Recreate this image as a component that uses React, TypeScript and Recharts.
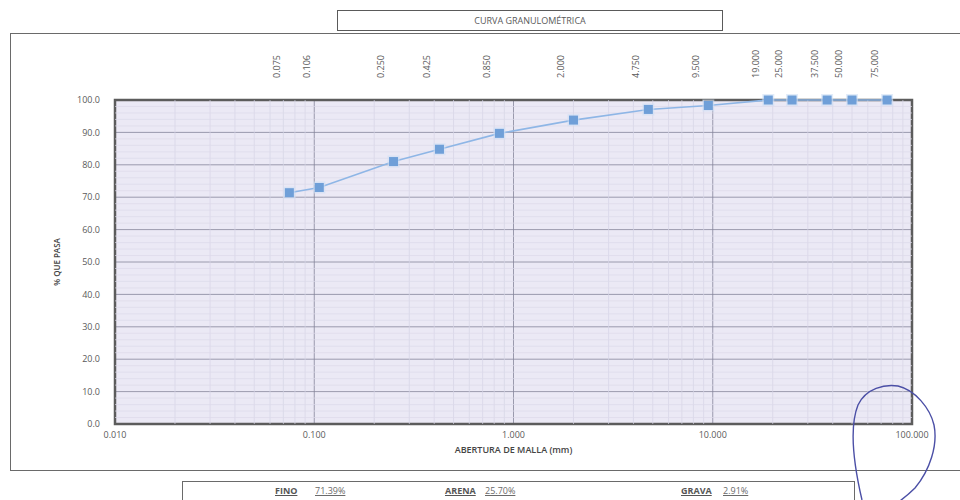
import React from "react";
import {
  ComposedChart,
  Line,
  XAxis,
  YAxis,
  CartesianGrid,
  ReferenceArea,
  ReferenceLine,
} from "recharts";

// Sieve openings (mm) and % passing
const sieves = [0.075, 0.106, 0.25, 0.425, 0.85, 2.0, 4.75, 9.5, 19.0, 25.0, 37.5, 50.0, 75.0];
const passing = [71.39, 73.0, 81.0, 84.8, 89.7, 93.8, 97.09, 98.3, 100, 100, 100, 100, 100];

const bottomTicks = [0.01, 0.1, 1, 10, 100];
const yTicks = [0, 10, 20, 30, 40, 50, 60, 70, 80, 90, 100];

const summaryLabels = ["FINO", "ARENA", "GRAVA"];
const summaryValues = ["71.39%", "25.70%", "2.91%"];

const data = sieves.map((s, i) => ({ x: s, y: passing[i] }));

// minor grid positions (2..9 within each decade)
const minorX: number[] = [];
[0.01, 0.1, 1, 10].forEach((d) => {
  for (let k = 2; k <= 9; k++) minorX.push(+(d * k).toFixed(4));
});
const minorY: number[] = [];
for (let v = 2; v < 100; v += 2) if (v % 10 !== 0) minorY.push(v);

const FONT = "'Open Sans', 'Liberation Sans', sans-serif";
const TXT = "#5a5a5a";

const SquareDot = (props: any) => {
  const { cx, cy, index } = props;
  if (cx == null || cy == null) return null;
  return (
    <g key={`dot-${index}`}>
      <rect x={cx - 6} y={cy - 6} width={12} height={12} fill="#cfe0f5" opacity={0.6} />
      <rect x={cx - 4.5} y={cy - 4.5} width={9} height={9} fill="#6f9fd8" />
    </g>
  );
};

const TopTick = (props: any) => {
  const { x, y, payload } = props;
  const tx = x - 12;
  const ty = y - 14;
  return (
    <text
      transform={`translate(${tx},${ty}) rotate(-90)`}
      textAnchor="start"
      dominantBaseline="middle"
      fontSize={9}
      fill={TXT}
      fontFamily={FONT}
    >
      {Number(payload.value).toFixed(3)}
    </text>
  );
};

export default function App() {
  return (
    <div style={{ position: "absolute", left: 0, top: 0, width: 960, height: 500, background: "#fff", overflow: "hidden" }}>
      {/* outer frame */}
      <div
        style={{
          position: "absolute",
          left: 10,
          top: 33,
          width: 970,
          height: 438,
          border: "1px solid #6a6a6a",
          boxSizing: "border-box",
        }}
      />
      {/* title box */}
      <div
        style={{
          position: "absolute",
          left: 337,
          top: 10,
          width: 386,
          height: 21,
          border: "1px solid #5a5a5a",
          boxSizing: "border-box",
          fontFamily: FONT,
          fontSize: 9,
          color: TXT,
          textAlign: "center",
          lineHeight: "19px",
          background: "#fff",
        }}
      >
        CURVA GRANULOMÉTRICA
      </div>
      <div style={{ position: "absolute", left: 0, top: 0 }}>
        <ComposedChart
          width={960}
          height={500}
          data={data}
          margin={{ top: 50, right: 48, bottom: 46, left: 45 }}
        >
          <CartesianGrid
            stroke="#85859a"
            strokeWidth={0.8}
            fill="#ebe9f5"
            fillOpacity={1}
            xAxisId="bottom"
          />
          {minorX.map((v) => (
            <ReferenceLine key={`mx${v}`} x={v} xAxisId="bottom" stroke="#d6d4e5" strokeWidth={0.7} />
          ))}
          {minorY.map((v) => (
            <ReferenceLine key={`my${v}`} y={v} xAxisId="bottom" stroke="#dcdaea" strokeWidth={0.7} />
          ))}
          <XAxis
            xAxisId="bottom"
            dataKey="x"
            type="number"
            scale="log"
            domain={[0.01, 100]}
            ticks={bottomTicks}
            allowDataOverflow
            tickFormatter={(v: number) => v.toFixed(3)}
            tick={{ fontSize: 9, fill: TXT, fontFamily: FONT }}
            tickLine={false}
            axisLine={false}
            height={30}
            label={{
              value: "ABERTURA DE MALLA (mm)",
              position: "insideBottom",
              offset: 1,
              style: { fontSize: 9, fill: "#444", fontWeight: 600, fontFamily: FONT },
            }}
          />
          <XAxis
            xAxisId="top"
            orientation="top"
            dataKey="x"
            type="number"
            scale="log"
            domain={[0.01, 100]}
            ticks={sieves}
            allowDataOverflow
            tick={<TopTick />}
            tickLine={false}
            axisLine={false}
            height={50}
            interval={0}
          />
          <YAxis
            type="number"
            domain={[0, 100]}
            ticks={yTicks}
            tickFormatter={(v: number) => v.toFixed(1)}
            tick={{ fontSize: 9, fill: TXT, fontFamily: FONT, dx: -7 }}
            tickLine={false}
            axisLine={false}
            width={70}
            label={{
              value: "% QUE PASA",
              angle: -90,
              position: "insideLeft",
              offset: 2,
              dx: 10,
              style: { fontSize: 8, fill: "#444", fontWeight: 600, fontFamily: FONT, textAnchor: "middle" },
            }}
          />
          <ReferenceArea
            xAxisId="bottom"
            x1={0.01}
            x2={100}
            y1={0}
            y2={100}
            fill="none"
            stroke="#5c5c5c"
            strokeWidth={2.5}
          />
          <Line
            xAxisId="bottom"
            dataKey="y"
            type="linear"
            stroke="#8eb6e6"
            strokeWidth={1.6}
            dot={<SquareDot />}
            isAnimationActive={false}
          />
        </ComposedChart>
      </div>
      {/* summary box */}
      <div
        style={{
          position: "absolute",
          left: 182,
          top: 481,
          width: 673,
          height: 22,
          border: "1px solid #6a6a6a",
          boxSizing: "border-box",
          fontFamily: FONT,
          fontSize: 9,
          color: TXT,
          background: "#fff",
        }}
      >
        {summaryLabels.map((l, i) => (
          <React.Fragment key={l}>
            <span
              style={{
                position: "absolute",
                left: [92, 262, 498][i],
                top: 2,
                fontWeight: 700,
                textDecoration: "underline",
                color: "#555",
              }}
            >
              {l}
            </span>
            <span
              style={{
                position: "absolute",
                left: [132, 302, 540][i],
                top: 2,
                textDecoration: "underline",
                color: "#6a6a6a",
              }}
            >
              {summaryValues[i]}
            </span>
          </React.Fragment>
        ))}
      </div>
      {/* hand-drawn pen loop */}
      <svg width={960} height={500} style={{ position: "absolute", left: 0, top: 0, pointerEvents: "none" }}>
        <path
          d="M 862 500 C 855 470, 848 430, 858 405 C 866 388, 885 384, 898 386 C 915 390, 930 408, 934 425 C 938 445, 930 470, 915 488 C 905 498, 898 502, 896 504"
          fill="none"
          stroke="#4b4fa6"
          strokeWidth={1.4}
        />
      </svg>
    </div>
  );
}
